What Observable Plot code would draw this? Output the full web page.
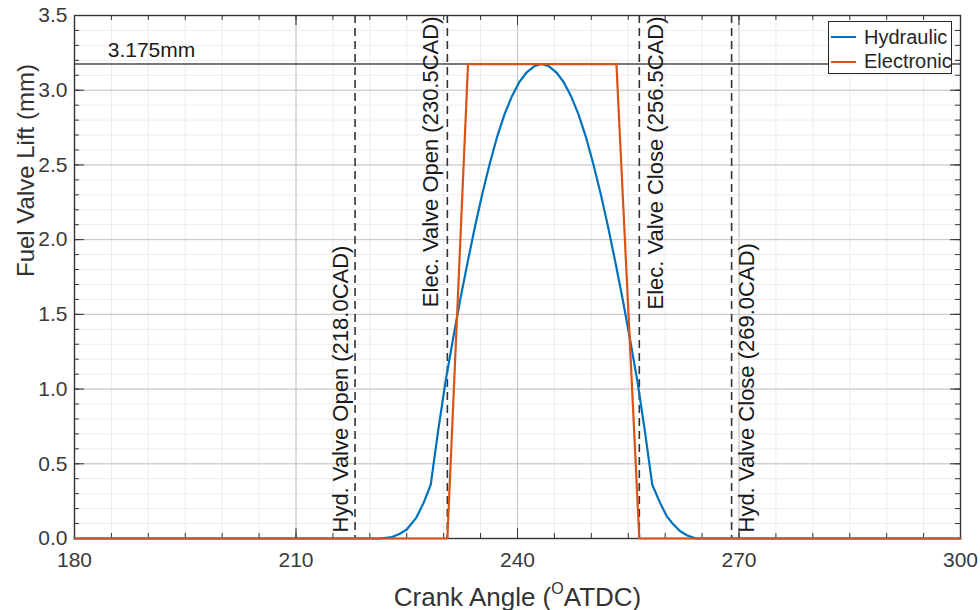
<!DOCTYPE html>
<html>
<head>
<meta charset="utf-8">
<script src="https://cdn.jsdelivr.net/npm/d3@7"></script>
<script src="https://cdn.jsdelivr.net/npm/@observablehq/plot@0.6"></script>
<style>
  html, body { margin: 0; padding: 0; background: #fff; }
  #wrap { position: relative; width: 980px; height: 610px; font-family: "Liberation Sans", Arial, Helvetica, sans-serif; }
  #legend { position: absolute; left: 828px; top: 21px; width: 124px; height: 53px; border: 1px solid #262626; background: #fff; box-sizing: border-box; }
  .row { position: absolute; left: 0; height: 24px; display: flex; align-items: center; font-size: 20px; color: #262626; white-space: nowrap; }
  .row .sw { display: inline-block; width: 25px; height: 0; border-top: 2px solid; margin-left: 2px; margin-right: 8px; }
</style>
</head>
<body>
<div id="wrap"></div>
<script>
// ---- Data ----
const hydAngle = [180, 221.4, 223, 224, 225, 226.3, 227.3,
  228.25, 229.25, 230.25, 231.25, 232.25, 233.25, 234.25, 235.25, 236.25, 237.25, 238.25,
  239.25, 240.25, 241.25, 242.25, 243.25, 244.25, 245.25, 246.25, 247.25, 248.25, 249.25,
  250.25, 251.25, 252.25, 253.25, 254.25, 255.25, 256.25, 257.25, 258.25,
  259.3, 260.2, 261, 262, 263, 264.2, 300];
const hydLift = [0, 0, 0.01, 0.03, 0.06, 0.14, 0.24,
  0.36, 0.72, 1.05, 1.33, 1.60, 1.85, 2.09, 2.31, 2.51, 2.69, 2.84,
  2.96, 3.055, 3.12, 3.16, 3.175, 3.16, 3.12, 3.055, 2.96, 2.84, 2.69,
  2.51, 2.31, 2.09, 1.85, 1.60, 1.33, 1.05, 0.72, 0.36,
  0.24, 0.15, 0.10, 0.05, 0.02, 0, 0];
const elecAngle = [180, 230.5, 233.3, 253.4, 256.5, 300];
const elecLift  = [0, 0, 3.175, 3.175, 0, 0];

const seriesNames = ["Hydraulic", "Electronic"];
const seriesColors = ["#0072BD", "#D95319"];

const eventAngles = [218, 230.5, 256.5, 269];
const eventLabels = ["Hyd. Valve Open (218.0CAD)", "Elec. Valve Open (230.5CAD)",
                     "Elec. Valve Close (256.5CAD)", "Hyd. Valve Close (269.0CAD)"];

const liftLimit = 3.175;
const liftLimitLabel = "3.175mm";

const xTicks = [180, 210, 240, 270, 300];
const yTicks = [0, 0.5, 1.0, 1.5, 2.0, 2.5, 3.0, 3.5];
const xMinor = d3.range(180, 300.1, 5);
const yMinor = d3.range(0, 3.501, 0.1);

const xLabelParts = ["Crank Angle (", "O", "ATDC)"];
const yLabel = "Fuel Valve Lift (mm)";

// ---- Build ----
const hyd = hydAngle.map((a, i) => ({angle: a, lift: hydLift[i]}));
const elec = elecAngle.map((a, i) => ({angle: a, lift: elecLift[i]}));
const events = eventAngles.map((a, i) => ({angle: a, label: eventLabels[i]}));

const W = 980, H = 610, mL = 74, mR = 20, mT = 15, mB = 72;
const pw = W - mL - mR, ph = H - mT - mB;
const xLabelText = xLabelParts.join("");

const chart = Plot.plot({
  width: W, height: H,
  marginLeft: mL, marginRight: mR, marginTop: mT, marginBottom: mB,
  x: {domain: [180, 300]},
  y: {domain: [0, 3.5]},
  style: {fontFamily: "'Liberation Sans', Arial, Helvetica, sans-serif", background: "#fff", overflow: "visible"},
  marks: [
    Plot.gridX(xMinor, {stroke: "#ececec", strokeOpacity: 1}),
    Plot.gridY(yMinor, {stroke: "#ececec", strokeOpacity: 1}),
    Plot.gridX(xTicks, {stroke: "#c4c4c4", strokeOpacity: 1}),
    Plot.gridY(yTicks, {stroke: "#c4c4c4", strokeOpacity: 1}),
    Plot.ruleY([liftLimit], {stroke: "#4a4a4a", strokeWidth: 1.6}),
    Plot.text([liftLimitLabel], {x: 184.5, y: liftLimit, text: d => d, textAnchor: "start", lineAnchor: "bottom", dy: -7, fontSize: 21, fill: "#1a1a1a"}),
    Plot.ruleX(events, {x: "angle", stroke: "#333", strokeWidth: 1.6, strokeDasharray: "8,5"}),
    Plot.frame({stroke: "#333", strokeWidth: 1.4}),
    // inward ticks
    Plot.ruleX(xMinor, {insetTop: ph - 5, stroke: "#333"}),
    Plot.ruleX(xMinor, {insetBottom: ph - 5, stroke: "#333"}),
    Plot.ruleX(xTicks, {insetTop: ph - 10, stroke: "#333"}),
    Plot.ruleX(xTicks, {insetBottom: ph - 10, stroke: "#333"}),
    Plot.ruleY(yMinor, {insetRight: pw - 5, stroke: "#333"}),
    Plot.ruleY(yMinor, {insetLeft: pw - 5, stroke: "#333"}),
    Plot.ruleY(yTicks, {insetRight: pw - 10, stroke: "#333"}),
    Plot.ruleY(yTicks, {insetLeft: pw - 10, stroke: "#333"}),
    Plot.line(hyd, {x: "angle", y: "lift", stroke: seriesColors[0], strokeWidth: 2.2}),
    Plot.line(elec, {x: "angle", y: "lift", stroke: seriesColors[1], strokeWidth: 2.2}),
    // event labels
    Plot.text([events[0]], {x: "angle", y: 0, text: "label", rotate: -90, textAnchor: "start", lineAnchor: "bottom", dx: -7, dy: -6, fontSize: 22, fill: "#1a1a1a"}),
    Plot.text([events[1]], {x: "angle", y: 3.5, text: "label", rotate: -90, textAnchor: "end", lineAnchor: "bottom", dx: -9, dy: 1, fontSize: 22, fill: "#1a1a1a"}),
    Plot.text([events[2]], {x: "angle", y: 3.5, text: "label", rotate: -90, textAnchor: "end", lineAnchor: "top", dx: 8, dy: 1, fontSize: 22, fill: "#1a1a1a"}),
    Plot.text([events[3]], {x: "angle", y: 0, text: "label", rotate: -90, textAnchor: "start", lineAnchor: "top", dx: 7, dy: -6, fontSize: 22, fill: "#1a1a1a"}),
    // axes
    Plot.axisX(xTicks, {tickSize: 0, tickPadding: 14, fontSize: 21, fill: "#3a3a3a", label: null, tickFormat: d => String(d)}),
    Plot.axisY(yTicks, {tickSize: 0, tickPadding: 7, fontSize: 21, fill: "#3a3a3a", label: null, tickFormat: d3.format(".1f")}),
    Plot.text([xLabelText], {frameAnchor: "bottom", text: d => d, lineAnchor: "bottom", dy: 67, fontSize: 26, fill: "#333"}),
    Plot.text([yLabel], {frameAnchor: "left", text: d => d, rotate: -90, lineAnchor: "bottom", dx: -41, fontSize: 24, fill: "#333"})
  ]
});

// superscript in x label
chart.querySelectorAll("text").forEach(t => {
  if (t.textContent === xLabelText) {
    t.textContent = "";
    const ns = "http://www.w3.org/2000/svg";
    const a = document.createElementNS(ns, "tspan"); a.textContent = xLabelParts[0];
    const b = document.createElementNS(ns, "tspan"); b.textContent = xLabelParts[1];
    b.setAttribute("font-size", "16"); b.setAttribute("dy", "-12");
    const c = document.createElementNS(ns, "tspan"); c.textContent = xLabelParts[2];
    c.setAttribute("dy", "12");
    t.append(a, b, c);
  }
});

const wrap = document.getElementById("wrap");
wrap.appendChild(chart);

// legend
const legend = document.createElement("div");
legend.id = "legend";
seriesNames.forEach((name, i) => {
  const row = document.createElement("div");
  row.className = "row";
  row.style.top = (3 + i * 24.5) + "px";
  const sw = document.createElement("span");
  sw.className = "sw";
  sw.style.borderTopColor = seriesColors[i];
  row.appendChild(sw);
  row.appendChild(document.createTextNode(name));
  legend.appendChild(row);
});
wrap.appendChild(legend);
</script>
</body>
</html>
